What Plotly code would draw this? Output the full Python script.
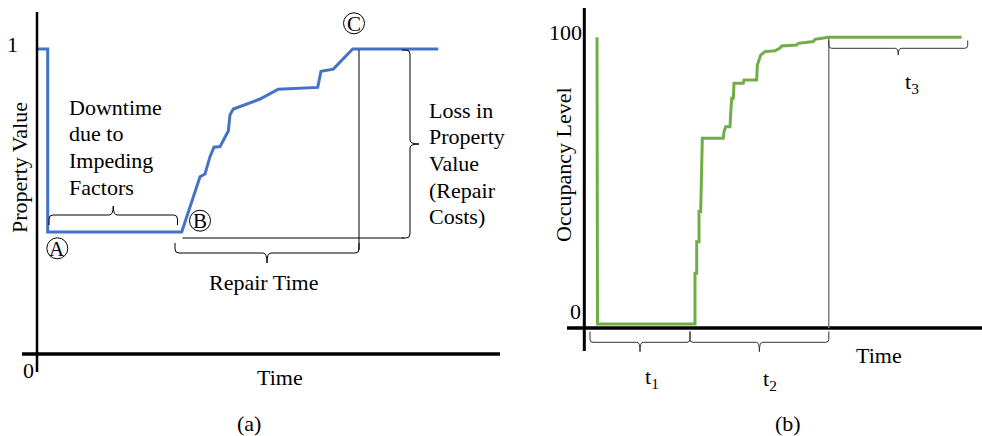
import plotly.graph_objects as go

W, H = 982, 436

# ---------------- data ----------------
# Panel (a): property value vs time
time_a = [0.1, 1.07, 1.07, 14.47, 16.3, 16.8, 17.3, 17.7, 18.3, 19.13, 19.3, 19.63,
          22.3, 24.13, 28.07, 28.4, 29.63, 31.57, 40.13]
value_a = [1.0, 1.0, 0.40, 0.40, 0.581, 0.590, 0.647, 0.678, 0.680, 0.731, 0.784, 0.803,
           0.836, 0.868, 0.874, 0.927, 0.934, 1.0, 1.0]

# Panel (b): occupancy level vs time
time_b = [1.27, 1.32, 11.07, 11.07, 11.24, 11.24, 11.47, 11.47, 11.64, 11.80, 13.90, 13.97,
          14.14, 14.57, 14.64, 14.74, 14.90, 14.97, 15.90, 15.97, 17.24, 17.30, 17.47, 17.64,
          18.07, 19.07, 19.57, 19.74, 21.24, 21.40, 22.90, 23.07, 24.40, 37.74]
occ_b = [100, 0, 0, 17.7, 17.7, 28.7, 28.7, 39.2, 39.2, 64.8, 64.8, 67.1,
         68.8, 68.8, 73.5, 78.7, 78.7, 84.0, 84.0, 85.1, 85.1, 90.3, 92.1, 93.8,
         95.0, 95.3, 96.2, 97.0, 97.3, 97.9, 98.5, 99.3, 100, 100]

ytick_a = ["0", "1"]
ytick_b = ["0", "100"]

BLUE = "#4472C4"
GREEN = "#70AD47"
FONT = "Liberation Serif"
FS = 22

# ---------------- coordinate helpers (layout decoration only) ----------------
def A(px, py):
    return ((px - 37) / 10.0, (354 - py) / 305.0)

def B(px, py):
    return ((px - 584.3) / 10.0, (324 - py) / 2.867)

fig = go.Figure()
fig.add_trace(go.Scatter(x=time_a, y=value_a, mode="lines", xaxis="x", yaxis="y",
                         line=dict(color=BLUE, width=3), hoverinfo="skip"))
fig.add_trace(go.Scatter(x=time_b, y=occ_b, mode="lines", xaxis="x2", yaxis="y2",
                         line=dict(color=GREEN, width=3), hoverinfo="skip"))

shapes = []
annotations = []

def line(conv, ref, p0, p1, width=1, color="black"):
    x0, y0 = conv(*p0)
    x1, y1 = conv(*p1)
    shapes.append(dict(type="line", xref=ref[0], yref=ref[1], x0=x0, y0=y0, x1=x1, y1=y1,
                       line=dict(color=color, width=width), layer="above"))

def path(conv, ref, cmds, color="black", width=1):
    s = ""
    for c in cmds:
        op = c[0]
        pts = c[1:]
        s += op + " " + " ".join("%.5f,%.5f" % conv(*p) for p in pts) + " "
    shapes.append(dict(type="path", xref=ref[0], yref=ref[1], path=s.strip(),
                       line=dict(color=color, width=width)))

def hbrace(conv, ref, x0, x1, y_end, y_mid, y_tip, r=4, color="black", width=1):
    s = 1 if y_mid > y_end else -1
    xm = (x0 + x1) / 2.0
    cmds = [("M", (x0, y_end)), ("L", (x0, y_mid - s * r)), ("Q", (x0, y_mid), (x0 + r, y_mid)),
            ("L", (xm - r, y_mid)), ("Q", (xm, y_mid), (xm, y_tip)), ("Q", (xm, y_mid), (xm + r, y_mid)),
            ("L", (x1 - r, y_mid)), ("Q", (x1, y_mid), (x1, y_mid - s * r)), ("L", (x1, y_end))]
    path(conv, ref, cmds, color, width)

def vbrace(conv, ref, y0, y1, x_end, x_mid, x_tip, r=4, color="black", width=1):
    s = 1 if x_mid > x_end else -1
    ym = (y0 + y1) / 2.0
    cmds = [("M", (x_end, y0)), ("L", (x_mid - s * r, y0)), ("Q", (x_mid, y0), (x_mid, y0 + r)),
            ("L", (x_mid, ym - r)), ("Q", (x_mid, ym), (x_tip, ym)), ("Q", (x_mid, ym), (x_mid, ym + r)),
            ("L", (x_mid, y1 - r)), ("Q", (x_mid, y1), (x_mid - s * r, y1)), ("L", (x_end, y1))]
    path(conv, ref, cmds, color, width)

def text(conv, ref, t, px, py, xanchor="center", size=FS, angle=0):
    x, y = conv(px, py)
    annotations.append(dict(text=t, x=x, y=y, xref=ref[0], yref=ref[1], showarrow=False,
                            xanchor=xanchor, yanchor="middle", textangle=angle,
                            font=dict(family=FONT, size=size, color="black")))

def circled(conv, ref, letter, cx, cy, r=10.5):
    x0, y0 = conv(cx - r, cy + r)
    x1, y1 = conv(cx + r, cy - r)
    shapes.append(dict(type="circle", xref=ref[0], yref=ref[1], x0=x0, y0=y0, x1=x1, y1=y1,
                       line=dict(color="black", width=1)))
    text(conv, ref, letter, cx, cy + 0.5, size=21)

RA = ("x", "y")
RB = ("x2", "y2")

# ---------------- panel (a) ----------------
line(A, RA, (37, 12), (37, 372), width=2.5)
line(A, RA, (22, 354), (500, 354), width=3.5)
text(A, RA, ytick_a[1], 12, 44)
text(A, RA, ytick_a[0], 28, 370)
text(A, RA, "Property Value", 19, 168, angle=-90)

for i, t in enumerate(["Downtime", "due to", "Impeding", "Factors"]):
    text(A, RA, t, 67, 107 + 26.7 * i, xanchor="left")
hbrace(A, RA, 49, 177.5, 225, 215, 206)

# repair time brace + vertical marker at end of recovery
hbrace(A, RA, 175, 359, 243, 253, 263)
line(A, RA, (359, 50), (359, 250), width=1)
text(A, RA, "Repair Time", 263, 282)

# loss in property value brace
line(A, RA, (182.5, 238), (404, 238), width=1)
vbrace(A, RA, 50, 238, 402, 410, 419)
for i, t in enumerate(["Loss in", "Property", "Value", "(Repair", "Costs)"]):
    text(A, RA, t, 427, 110 + 26.7 * i, xanchor="left")

circled(A, RA, "A", 57.3, 248.3)
circled(A, RA, "B", 200, 220.7)
circled(A, RA, "C", 354, 23.3)

text(A, RA, "Time", 280, 377)
text(A, RA, "(a)", 249, 423)

# ---------------- panel (b) ----------------
line(B, RB, (584.3, 8), (584.3, 351), width=3)
line(B, RB, (567, 328), (982, 328), width=3.5)
text(B, RB, ytick_b[1], 584, 32, xanchor="right")
text(B, RB, ytick_b[0], 575, 311)
text(B, RB, "Occupancy Level", 563, 165, angle=-90)

line(B, RB, (828.8, 38), (828.8, 328), width=1.5, color="#7f7f7f")
hbrace(B, RB, 828.8, 967.7, 40.5, 48.3, 55, r=3, color="#333333")
hbrace(B, RB, 590, 690, 331.5, 342.3, 351.7, r=3, color="#333333")
hbrace(B, RB, 690, 828.8, 331.5, 342.3, 351.7, r=3, color="#333333")

text(B, RB, "t<sub>1</sub>", 652, 378)
text(B, RB, "t<sub>2</sub>", 770, 380)
text(B, RB, "t<sub>3</sub>", 912, 83)
text(B, RB, "Time", 879, 355)
text(B, RB, "(b)", 788, 423)

ax_common = dict(visible=False, showgrid=False, zeroline=False, fixedrange=True)
fig.update_layout(
    width=W, height=H,
    margin=dict(l=0, r=0, t=0, b=0),
    paper_bgcolor="white", plot_bgcolor="white",
    showlegend=False,
    xaxis=dict(domain=[0, 500 / W], range=[-3.7, 46.3], **ax_common),
    yaxis=dict(domain=[0, 1], range=[(354 - 436) / 305.0, 354 / 305.0], **ax_common),
    xaxis2=dict(domain=[500 / W, 1], range=[(500 - 584.3) / 10.0, (982 - 584.3) / 10.0],
                anchor="y2", **ax_common),
    yaxis2=dict(domain=[0, 1], range=[(324 - 436) / 2.867, 324 / 2.867], anchor="x2", **ax_common),
    shapes=shapes,
    annotations=annotations,
)

fig.write_html("out.html")
